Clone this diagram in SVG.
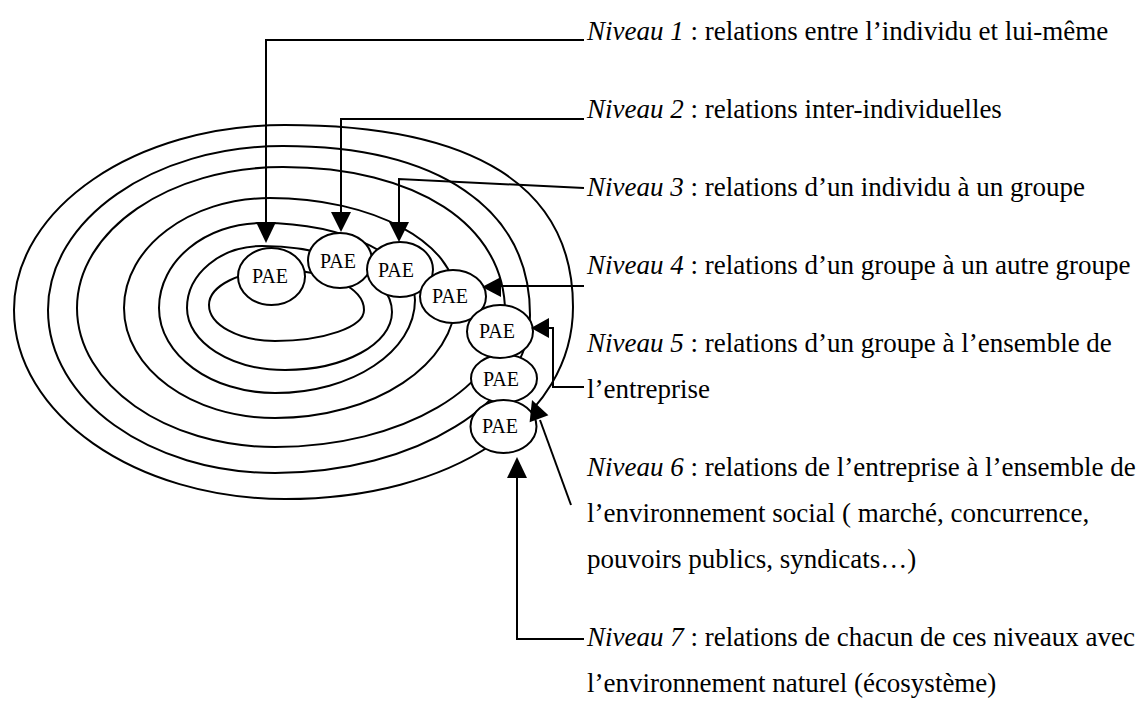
<svg xmlns="http://www.w3.org/2000/svg" width="1138" height="719" viewBox="0 0 1138 719">
<style>
.ring{fill:none;stroke:#000;stroke-width:2}
.pae ellipse{fill:#fff;stroke:#000;stroke-width:2}
.pae text{font-family:"Liberation Serif","Times New Roman",serif;font-size:20px;text-anchor:middle;fill:#000}
.conn path{fill:none;stroke:#000;stroke-width:2}
.conn polygon{fill:#000;stroke:none}
.lbl text{font-family:"Liberation Serif","Times New Roman",serif;font-size:27px;fill:#000}
.it{font-style:italic}
</style>
<rect width="1138" height="719" fill="#fff"/>
<g id="rings">
<path id="ring7" class="ring" d="M14,310 C14,207.9 135.4,125 285,125 C475.1,125 573,186.9 573,307 C573,418.4 452,499 285,499 C135.4,499 14,414.3 14,310Z"/>
<path id="ring6" class="ring" d="M48,310 C48,219.5 153.3,146 283,146 C438.6,146 530,208.5 530,315 C530,402.2 415.8,473 275,473 C149.7,473 48,400 48,310Z"/>
<path id="ring5" class="ring" d="M77,308 C77,230.2 169.3,167 283,167 C416.2,167 505,225 505,312 C505,386.5 402,447 275,447 C165.7,447 77,384.7 77,308Z"/>
<path id="ring4" class="ring" d="M124,308 C124,247.3 189.4,198 270,198 C372.7,198 456,242.8 456,298 C456,364.2 374.9,418 275,418 C191.6,418 124,368.7 124,308Z"/>
<path id="ring3" class="ring" d="M159,308 C159,261.1 205.1,223 262,223 C346.5,223 415,257.5 415,300 C415,351.3 352.3,393 275,393 C211,393 159,354.9 159,308Z"/>
<path id="ring2" class="ring" d="M187,308 C187,273.8 220.6,246 262,246 C333.8,246 392,275.6 392,312 C392,344 344.1,370 285,370 C230.9,370 187,342.2 187,308Z"/>
<path id="ring1" class="ring" d="M209,305 C209,285.7 240.8,270 280,270 C326.4,270 364,287.9 364,310 C364,327.1 324.1,341 275,341 C238.6,341 209,324.9 209,305Z"/>
</g>
<g id="pae1" class="pae"><ellipse cx="271.5" cy="276.5" rx="33.5" ry="28.5"/><text x="270" y="283">PAE</text></g>
<g id="pae2" class="pae"><ellipse cx="340" cy="260.5" rx="32" ry="27.5"/><text x="338" y="268">PAE</text></g>
<g id="pae3" class="pae"><ellipse cx="400" cy="269.5" rx="33" ry="27.5"/><text x="396" y="277">PAE</text></g>
<g id="pae4" class="pae"><ellipse cx="453" cy="296.5" rx="33" ry="26.5"/><text x="450" y="303">PAE</text></g>
<g id="pae6" class="pae"><ellipse cx="504" cy="378.5" rx="33" ry="24"/><text x="501" y="386">PAE</text></g>
<g id="pae5" class="pae"><ellipse cx="500" cy="331.5" rx="33" ry="26.5"/><text x="497" y="338">PAE</text></g>
<g id="pae7" class="pae"><ellipse cx="503.5" cy="426.5" rx="33" ry="26.5"/><text x="500" y="433">PAE</text></g>
<g id="connectors" class="conn">
<path d="M584,40 H266 V224"/><polygon points="256,222 276,222 266,243"/>
<path d="M584,119 H341 V214"/><polygon points="331,212 351,212 341,232"/>
<path d="M584,188 L399,179 V224"/><polygon points="389,222 409,222 399,242"/>
<path d="M584,286 H499"/><polygon points="482,287 501,277 501,297"/>
<path d="M584,387 H553 V328 H547"/><polygon points="531,328 549,318 549,338"/>
<path d="M571,505 L540,420"/><polygon points="532,400 548.4,415.2 529.6,422.2"/>
<path d="M584,639 H517 V476"/><polygon points="517,457 507,478 527,478"/>
</g>
<g id="labels" class="lbl">
<text id="t1" x="587" y="40"><tspan class="it">Niveau 1</tspan> : relations entre l’individu et lui-même</text>
<text id="t2" x="587" y="118"><tspan class="it">Niveau 2</tspan> : relations inter-individuelles</text>
<text id="t3" x="587" y="196"><tspan class="it">Niveau 3</tspan> : relations d’un individu à un groupe</text>
<text id="t4" x="587" y="274"><tspan class="it">Niveau 4</tspan> : relations d’un groupe à un autre groupe</text>
<text id="t5" x="587" y="352"><tspan class="it">Niveau 5</tspan> : relations d’un groupe à l’ensemble de</text>
<text id="t5b" x="587" y="398">l’entreprise</text>
<text id="t6" x="587" y="476"><tspan class="it">Niveau 6</tspan> : relations de l’entreprise à l’ensemble de</text>
<text id="t6b" x="587" y="522">l’environnement social ( marché, concurrence,</text>
<text id="t6c" x="587" y="568">pouvoirs publics, syndicats…)</text>
<text id="t7" x="587" y="646"><tspan class="it">Niveau 7</tspan> : relations de chacun de ces niveaux avec</text>
<text id="t7b" x="587" y="692">l’environnement naturel (écosystème)</text>
</g>
</svg>
